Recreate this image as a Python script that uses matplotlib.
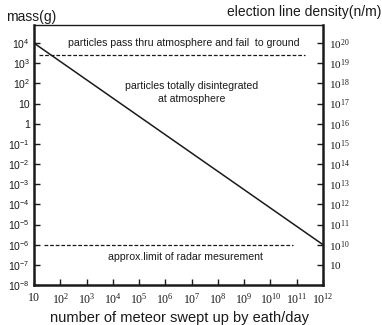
import matplotlib
matplotlib.use("Agg")
import matplotlib.pyplot as plt
import numpy as np

# ---- data ----
meteor_count = [10, 1e12]              # number of meteors swept up by earth/day
meteor_mass = [1e4, 1e-6]              # mass (g)
pass_limit_x = [10**1.19, 10**11.3]
pass_limit_mass = [10**3.4, 10**3.4]   # particles pass thru atmosphere
radar_limit_x = [10**1.38, 10**10.85]
radar_limit_mass = [1e-6, 1e-6]        # approx. limit of radar measurement

x_ticks = [10.0**k for k in range(1, 13)]
x_labels = [r"$\mathrm{10}$"] + [r"$\mathrm{10^{%d}}$" % k for k in range(2, 13)]
left_ticks = [10.0**k for k in range(4, -9, -1)]
left_labels = [r"$\mathsf{10^{4}}$", r"$\mathsf{10^{3}}$", r"$\mathsf{10^{2}}$", "10", "1"] + \
              [r"$\mathsf{10^{%d}}$" % k for k in range(-1, -9, -1)]
right_ticks = [10.0**k for k in range(20, 8, -1)]
right_labels = [r"$\mathrm{10^{%d}}$" % k for k in range(20, 9, -1)] + [r"$\mathrm{10}$"]

plt.rcParams['font.family'] = ['Liberation Sans', 'DejaVu Sans']
plt.rcParams['mathtext.fontset'] = 'custom'
plt.rcParams['mathtext.rm'] = 'Liberation Serif'
plt.rcParams['mathtext.sf'] = 'Liberation Sans'

ink = '#1a1a1a'
fig = plt.figure(figsize=(3.82, 3.25), dpi=100)
ax = fig.add_axes([34/382, 1-285/325, (323-34)/382, (285-25)/325])
ax.set_xscale('log')
ax.set_yscale('log')
ax.set_xlim(10, 1e12)
ax.set_ylim(1e-8, 10**4.9)

ax.plot(meteor_count, meteor_mass, color=ink, lw=1.1)
ax.plot(pass_limit_x, pass_limit_mass, color=ink, lw=0.9, ls=(0, (3, 1.5)))
ax.plot(radar_limit_x, radar_limit_mass, color=ink, lw=0.9, ls=(0, (3, 1.5)))

ax.set_xticks(x_ticks)
ax.set_xticklabels(x_labels, fontsize=8.5)
ax.set_yticks(left_ticks)
ax.set_yticklabels(left_labels, fontsize=7.5)
ax.minorticks_off()
ax.tick_params(axis='both', direction='in', length=4, width=1, colors=ink, pad=3)
ax.tick_params(axis='x', pad=5)

for s in ax.spines.values():
    s.set_color(ink)
ax.spines['left'].set_linewidth(1.8)
ax.spines['bottom'].set_linewidth(1.8)
ax.spines['right'].set_linewidth(1.8)
ax.spines['top'].set_linewidth(1.0)

ax2 = ax.twinx()
ax2.set_yscale('log')
ax2.set_ylim(1e8, 10**20.9)
ax2.set_yticks(right_ticks)
ax2.set_yticklabels(right_labels, fontsize=8)
ax2.minorticks_off()
ax2.tick_params(axis='y', direction='in', length=4, width=1, colors=ink, pad=4)
for s in ax2.spines.values():
    s.set_visible(False)

ax.text(10**6.7, 10**4.0, "particles pass thru atmosphere and fail  to ground",
        ha='center', va='center', fontsize=7.6, color=ink)
ax.text(10**7.0, 10**1.55, "particles totally disintegrated\nat atmosphere",
        ha='center', va='center', fontsize=7.6, color=ink, linespacing=1.3)
ax.text(10**6.75, 10**-6.62, "approx.limit of radar mesurement",
        ha='center', va='center', fontsize=7.6, color=ink)

fig.text(6/382, 1-17/325, "mass(g)", ha='left', va='center', fontsize=10, color=ink)
fig.text(381/382, 1-12/325, "election line density(n/m)", ha='right', va='center',
         fontsize=10, color=ink)
fig.text(179/382, 1-318/325, "number of meteor swept up by eath/day", ha='center',
         va='center', fontsize=10.5, color=ink)

fig.savefig("out.png", dpi=100)
